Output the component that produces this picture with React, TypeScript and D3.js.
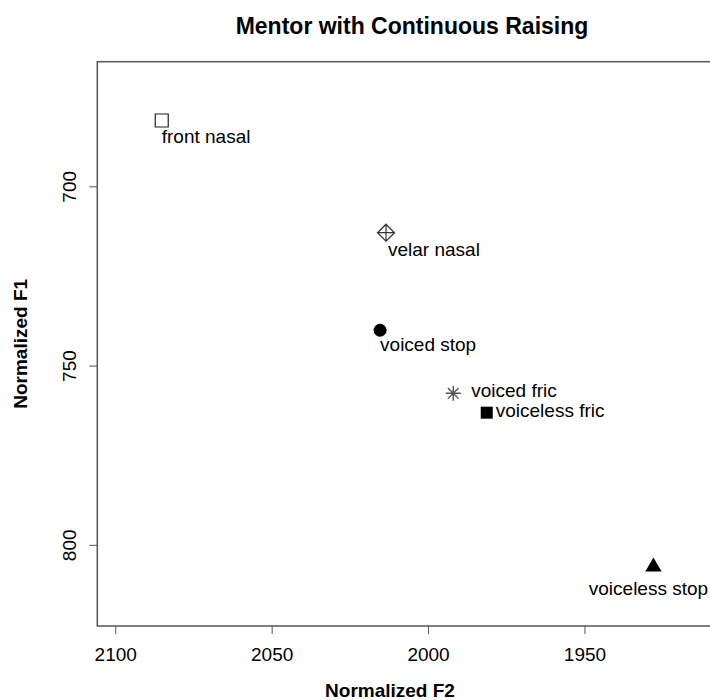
import React from 'react'
import * as d3 from 'd3'

// values (Normalized F2 / F1 per context)
const categories = ['front nasal', 'velar nasal', 'voiced stop', 'voiced fric', 'voiceless fric', 'voiceless stop']
const f2Values = [2085.3, 2013.6, 2015.5, 1992.1, 1981.4, 1928.1]
const f1Values = [681.5, 712.8, 740.0, 757.6, 763.0, 806.0]
const markerKinds = ['openSquare', 'diamondPlus', 'dot', 'asterisk', 'square', 'triangle']
const xTicks = [2100, 2050, 2000, 1950]
const yTicks = [700, 750, 800]

// where each label sits relative to its point (px)
const labelOffsets: [number, number, string][] = [
    [0, 23, 'start'],
    [2, 23, 'start'],
    [0, 21, 'start'],
    [18, 4, 'start'],
    [9, 4, 'start'],
    [-5, 28, 'middle'],
]

const W = 710
const H = 700
const left = 97.3, right = 722.9, top = 61.7, bottom = 626
const font = '"Liberation Sans", Arial, Helvetica, sans-serif'

const Marker = ({ kind, x, y }: { kind: string, x: number, y: number }) => {
    const t = `translate(${x},${y})`
    if (kind === 'openSquare')
        return <path transform={t} d={d3.symbol(d3.symbolSquare, 169)()!} fill="white" stroke="#222" strokeWidth={1.2} />
    if (kind === 'square')
        return <path transform={t} d={d3.symbol(d3.symbolSquare, 144)()!} fill="black" />
    if (kind === 'dot')
        return <path transform={t} d={d3.symbol(d3.symbolCircle, 133)()!} fill="black" />
    if (kind === 'triangle')
        return <path transform={t} d={d3.symbol(d3.symbolTriangle, 115)()!} fill="black" />
    if (kind === 'diamondPlus') {
        const r = 8.5
        return <path transform={t} fill="none" stroke="#333" strokeWidth={1.2}
            d={`M0,${-r}L${r},0L0,${r}L${-r},0Z M0,${-r}V${r} M${-r},0H${r}`} />
    }
    // asterisk
    const r = 7.5, d = 5.3
    return <path transform={t} fill="none" stroke="#555" strokeWidth={1.4}
        d={`M${-r},0H${r} M0,${-r}V${r} M${-d},${-d}L${d},${d} M${-d},${d}L${d},${-d}`} />
}

const App = () => {
    const x = d3.scaleLinear().domain([2105.9, 1905.9]).range([left, right])
    const y = d3.scaleLinear().domain([665.1, 822.5]).range([top, bottom])

    return (
        <svg width={W} height={H} style={{ position: 'absolute', left: 0, top: 0, background: 'white' }}
            fontFamily={font}>
            <text x={412} y={34} textAnchor="middle" fontSize={23} fontWeight="bold">
                Mentor with Continuous Raising
            </text>

            {/* plot box */}
            <rect x={left} y={top} width={right - left} height={bottom - top}
                fill="none" stroke="#555" strokeWidth={1.5} />

            {/* x axis */}
            {xTicks.map(t => (
                <g key={t}>
                    <line x1={x(t)} x2={x(t)} y1={bottom} y2={bottom + 8} stroke="#555" strokeWidth={1} />
                    <text x={x(t)} y={661} textAnchor="middle" fontSize={19}>{t}</text>
                </g>
            ))}
            <text x={390} y={697} textAnchor="middle" fontSize={19} fontWeight="bold">Normalized F2</text>

            {/* y axis */}
            {yTicks.map(t => (
                <g key={t}>
                    <line x1={left - 8} x2={left} y1={y(t)} y2={y(t)} stroke="#555" strokeWidth={1} />
                    <text transform={`translate(76,${y(t)}) rotate(-90)`} textAnchor="middle" fontSize={19}>{t}</text>
                </g>
            ))}
            <text transform={`translate(27,${(top + bottom) / 2}) rotate(-90)`} textAnchor="middle"
                fontSize={19} fontWeight="bold">Normalized F1</text>

            {/* points + labels */}
            {categories.map((c, i) => {
                const px = x(f2Values[i])
                const py = y(f1Values[i])
                const [dx, dy, anchor] = labelOffsets[i]
                return (
                    <g key={c}>
                        <Marker kind={markerKinds[i]} x={px} y={py} />
                        <text x={px + dx} y={py + dy} textAnchor={anchor as any} fontSize={19}>{c}</text>
                    </g>
                )
            })}
        </svg>
    )
}

export default App
